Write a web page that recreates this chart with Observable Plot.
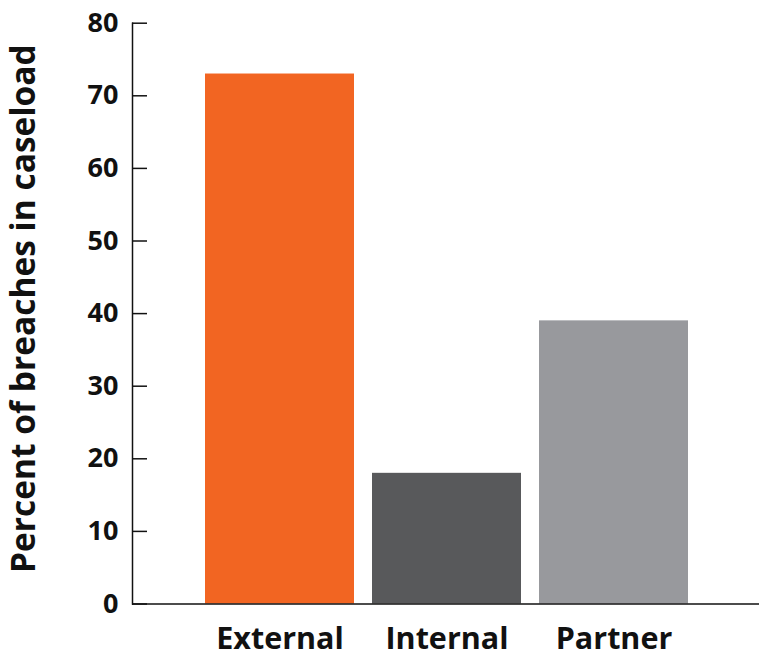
<!DOCTYPE html>
<html>
<head>
<meta charset="utf-8">
<script src="https://cdn.jsdelivr.net/npm/d3@7"></script>
<script src="https://cdn.jsdelivr.net/npm/@observablehq/plot@0.6"></script>
<style>
  html, body { margin: 0; padding: 0; background: #fff; }
  #chart svg { font-family: "Open Sans", "Liberation Sans", sans-serif; font-weight: 700; }
</style>
</head>
<body>
<div id="chart"></div>
<script>
const categories = ["External", "Internal", "Partner"];
const values = [73, 18, 39];
const colors = ["#F26522", "#58595B", "#98999D"];
const yTicks = [0, 10, 20, 30, 40, 50, 60, 70, 80];
const yLabel = "Percent of breaches in caseload";

const data = categories.map((c, i) => ({category: c, value: values[i]}));

const W = 759, H = 657, ML = 132, MR = 0, MT = 22.7, MB = 53.5;

const chart = Plot.plot({
  width: W,
  height: H,
  marginLeft: ML,
  marginRight: MR,
  marginTop: MT,
  marginBottom: MB,
  style: {fontFamily: '"Open Sans", "Liberation Sans", sans-serif', fontWeight: 700, color: "#111"},
  x: {domain: categories, range: [203.3, 689], paddingInner: 0.107, paddingOuter: 0},
  y: {domain: [0, 80]},
  color: {domain: categories, range: colors},
  marks: [
    Plot.barY(data, {x: "category", y: "value", fill: "category"}),
    Plot.ruleY(yTicks, {y: d => d, insetRight: (W - ML - MR) - 15, stroke: "#111", strokeWidth: 1.5}),
    Plot.ruleY([0], {stroke: "#111", strokeWidth: 1.5}),
    Plot.frame({anchor: "left", stroke: "#111", strokeWidth: 1.5}),
    Plot.axisY(yTicks, {tickSize: 0, tickPadding: 14, fontSize: 27, fontWeight: 700, label: null}),
    Plot.axisX({tickSize: 0, tickPadding: 23, fontSize: 30.5, fontWeight: 700, label: null, style: {letterSpacing: "0.6px"}}),
    Plot.text([yLabel], {text: d => d, frameAnchor: "left", rotate: -90, textAnchor: "middle", lineAnchor: "top", dx: -121, dy: -5, fontSize: 33.5, fontWeight: 700, fill: "#111"})
  ]
});
document.getElementById("chart").appendChild(chart);
</script>
</body>
</html>
